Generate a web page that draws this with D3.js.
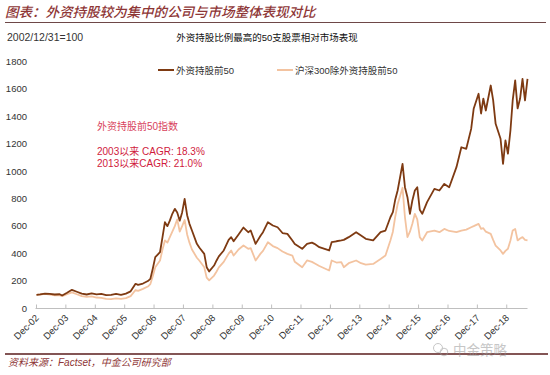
<!DOCTYPE html>
<html>
<head>
<meta charset="utf-8">
<script src="https://cdn.jsdelivr.net/npm/d3@7"></script>
<style>
  body { margin: 0; background: #fff; }
  svg { display: block; font-family: "Liberation Sans", "Noto Sans CJK SC", sans-serif; }
</style>
</head>
<body>
<div id="chart"></div>
<script>
// data (2002/12/31 = 100)
const dates = [
  "2002-12-31", "2003-02-15", "2003-04-15", "2003-06-15", "2003-08-15", "2003-10-15", "2003-11-15",
  "2004-01-15", "2004-03-15", "2004-05-15", "2004-07-15", "2004-09-15", "2004-11-15",
  "2005-01-15", "2005-03-15", "2005-05-15", "2005-07-15", "2005-09-15", "2005-11-15",
  "2006-01-15", "2006-03-15", "2006-05-15", "2006-06-15", "2006-08-15", "2006-10-15", "2006-11-15", "2006-12-15",
  "2007-01-15", "2007-03-15", "2007-04-15", "2007-05-15", "2007-06-15", "2007-07-15", "2007-08-15",
  "2007-09-15", "2007-10-15", "2007-11-15", "2007-12-15",
  "2008-01-15", "2008-02-15", "2008-03-15", "2008-04-15", "2008-06-15", "2008-07-15", "2008-09-15",
  "2008-10-15", "2008-11-15",
  "2009-01-15", "2009-02-15", "2009-03-15", "2009-05-15", "2009-07-15", "2009-08-15", "2009-09-15", "2009-11-15",
  "2010-01-15", "2010-03-15", "2010-04-15", "2010-06-15", "2010-08-15", "2010-09-15", "2010-11-15",
  "2011-01-15", "2011-03-15", "2011-05-15", "2011-07-15", "2011-09-15", "2011-10-15",
  "2012-01-15", "2012-03-15", "2012-05-15", "2012-06-15", "2012-08-15", "2012-12-15",
  "2013-01-15", "2013-03-15", "2013-05-15", "2013-06-15", "2013-08-15", "2013-11-15",
  "2014-01-15", "2014-03-15", "2014-06-15", "2014-09-15", "2014-11-15",
  "2015-01-15", "2015-02-15", "2015-03-15", "2015-04-15", "2015-06-15", "2015-07-15", "2015-08-15",
  "2015-09-15", "2015-10-15", "2015-11-15", "2015-12-15",
  "2016-01-15", "2016-02-15", "2016-04-15", "2016-07-15", "2016-09-15", "2016-11-15",
  "2017-01-15", "2017-04-15", "2017-06-15", "2017-08-15", "2017-10-15", "2017-11-15",
  "2018-01-15", "2018-02-15", "2018-03-15", "2018-04-15", "2018-06-15", "2018-07-15", "2018-08-15",
  "2018-10-15", "2018-11-15", "2018-12-15",
  "2019-01-15", "2019-02-15", "2019-03-15", "2019-04-15", "2019-05-15", "2019-06-15", "2019-07-15",
  "2019-08-15", "2019-09-15"
];
const top50 = [
  100, 103, 108, 106, 102, 104, 95,
  115, 136, 122, 108, 102, 110,
  103, 106, 97, 100, 106, 99,
  108, 125, 180, 172, 182, 200, 216, 290,
  374, 410, 520, 629, 600, 640, 690,
  726, 700, 640, 700,
  799, 680, 617, 568, 471, 445, 398,
  301, 270,
  313, 350, 380, 423, 500, 520, 490, 540,
  590, 556, 568, 471, 530, 556, 629,
  605, 592, 550, 544, 496, 470,
  435, 471, 480, 471, 447, 423,
  483, 490, 496, 500, 520, 556,
  532, 508, 496, 556, 568,
  665, 702, 790, 860, 1054, 884, 811,
  690, 787, 860, 884,
  720, 690, 775, 872, 860, 908,
  884, 1030, 1175, 1164, 1309, 1455,
  1565, 1421, 1530, 1443, 1625, 1518, 1346,
  1237, 1054, 1225,
  1128, 1297, 1516, 1662, 1458, 1530, 1674,
  1516, 1674
];
const hs300ex = [
  100, 102, 106, 101, 96, 95, 90,
  104, 118, 104, 90, 84, 88,
  80, 78, 70, 68, 74, 70,
  76, 90, 135, 128, 143, 160, 178, 235,
  301, 350, 430, 496, 480, 520, 560,
  600, 650, 560, 600,
  645, 540, 480, 430, 370, 350, 300,
  225, 205,
  240, 270, 300, 340, 400, 423, 386, 430,
  459, 435, 440, 350, 400, 420, 483,
  455, 440, 415, 398, 386, 340,
  301, 350, 340, 330, 310, 277,
  350, 335, 338, 301, 330, 350,
  330, 320, 325, 360, 386,
  496, 560, 665, 760, 880, 665, 520,
  560, 617, 690, 650,
  520, 496, 556, 568, 556, 580,
  565, 556, 568, 575, 592, 600,
  617, 580, 585, 560, 544, 500, 459,
  423, 398, 420,
  435, 496, 568, 580, 496, 510, 520,
  500, 496
];
const seriesNames = ["外资持股前50", "沪深300除外资持股前50"];
const seriesColors = ["#7e3a12", "#f3c3a0"];
const yTicks = [0, 200, 400, 600, 800, 1000, 1200, 1400, 1600, 1800];
const tickYears = d3.range(2002, 2019);
const notes = ["外资持股前50指数", "2003以来 CAGR: 18.3%", "2013以来CAGR: 21.0%"];

const width = 550, height = 375;
const parse = d3.timeParse("%Y-%m-%d");
const dateVals = dates.map(parse);

const svg = d3.select("#chart").append("svg")
    .attr("width", width)
    .attr("height", height);

//scales
const x = d3.scaleTime()
    .domain(d3.extent(dateVals))
    .range([36.5, 527.5]);
const y = d3.scaleLinear()
    .domain([0, 1800])
    .range([308.5, 61.5]);

//header
svg.append("text")
    .attr("x", 5).attr("y", 17)
    .attr("fill", "#8e3636")
    .style("font-size", "13.5px")
    .style("font-style", "italic")
    .style("font-weight", "500")
    .style("font-family", "'Noto Sans CJK SC', sans-serif")
    .text("图表：外资持股较为集中的公司与市场整体表现对比");
svg.append("line")
    .attr("x1", 5).attr("x2", 546).attr("y1", 22.5).attr("y2", 22.5)
    .attr("stroke", "#6e4848").attr("stroke-width", 1);
svg.append("text")
    .attr("x", 7).attr("y", 40.5)
    .attr("fill", "#333")
    .style("font-size", "10.5px")
    .text("2002/12/31=100");
svg.append("text")
    .attr("x", 267).attr("y", 40.5)
    .attr("text-anchor", "middle")
    .attr("fill", "#111")
    .style("font-size", "9.5px")
    .text("外资持股比例最高的50支股票相对市场表现");

//legend
const legend = svg.append("g");
const legendX = [158, 277];
seriesNames.forEach((name, i) => {
    legend.append("line")
        .attr("x1", legendX[i]).attr("x2", legendX[i] + 16)
        .attr("y1", 70).attr("y2", 70)
        .attr("stroke", seriesColors[i]).attr("stroke-width", 2);
    legend.append("text")
        .attr("x", legendX[i] + 18).attr("y", 73.5)
        .attr("fill", "#333")
        .style("font-size", "9.5px")
        .text(name);
});

//notes
svg.append("g").selectAll("text")
    .data(notes)
    .join("text")
    .attr("x", 97)
    .attr("y", (d, i) => [130, 154.5, 166.5][i])
    .attr("fill", (d, i) => i == 0 ? "#d8425c" : "#d01a3c")
    .style("font-size", "10px")
    .text(d => d);

//y labels
svg.append("g").selectAll("text")
    .data(yTicks)
    .join("text")
    .attr("x", 27)
    .attr("y", d => y(d))
    .attr("dy", "0.35em")
    .attr("text-anchor", "end")
    .attr("fill", "#333")
    .style("font-size", "9.5px")
    .text(d => d);

//x axis
const xAxis = svg.append("g");
xAxis.append("line")
    .attr("x1", 35.5).attr("x2", 527.5)
    .attr("y1", y(0)).attr("y2", y(0))
    .attr("stroke", "#bfbfbf");
const tickDates = tickYears.map(yr => new Date(yr, 11, 31));
xAxis.selectAll(".tick")
    .data(tickDates)
    .join("line")
    .attr("class", "tick")
    .attr("x1", d => x(d)).attr("x2", d => x(d))
    .attr("y1", y(0) - 4).attr("y2", y(0))
    .attr("stroke", "#bfbfbf");
xAxis.selectAll(".lbl")
    .data(tickDates)
    .join("text")
    .attr("class", "lbl")
    .attr("transform", d => `translate(${x(d) + 3},${y(0) + 10}) rotate(-45)`)
    .attr("text-anchor", "end")
    .attr("fill", "#333")
    .style("font-size", "9.5px")
    .text(d3.timeFormat("Dec-%y"));

//lines
const line = d3.line()
    .x((d, i) => x(dateVals[i]))
    .y(d => y(d));
svg.append("path")
    .datum(hs300ex)
    .attr("fill", "none")
    .attr("stroke", seriesColors[1])
    .attr("stroke-width", 1.8)
    .attr("stroke-linejoin", "round")
    .attr("d", line);
svg.append("path")
    .datum(top50)
    .attr("fill", "none")
    .attr("stroke", seriesColors[0])
    .attr("stroke-width", 1.8)
    .attr("stroke-linejoin", "round")
    .attr("d", line);

//footer
svg.append("line")
    .attr("x1", 5).attr("x2", 548).attr("y1", 354).attr("y2", 354)
    .attr("stroke", "#5a1c1c").attr("stroke-width", 1.5);
svg.append("text")
    .attr("x", 8).attr("y", 366)
    .attr("fill", "#8e3636")
    .style("font-size", "10px")
    .style("font-style", "italic")
    .text("资料来源：Factset，中金公司研究部");

//watermark
const wm = svg.append("g").attr("opacity", 0.55);
wm.append("circle").attr("cx", 438).attr("cy", 348).attr("r", 4.5)
    .attr("fill", "none").attr("stroke", "#999");
wm.append("circle").attr("cx", 444).attr("cy", 352).attr("r", 3.8)
    .attr("fill", "none").attr("stroke", "#999");
wm.append("text")
    .attr("x", 453).attr("y", 355)
    .attr("fill", "#999")
    .style("font-size", "13.5px")
    .text("中金策略");
</script>
</body>
</html>
